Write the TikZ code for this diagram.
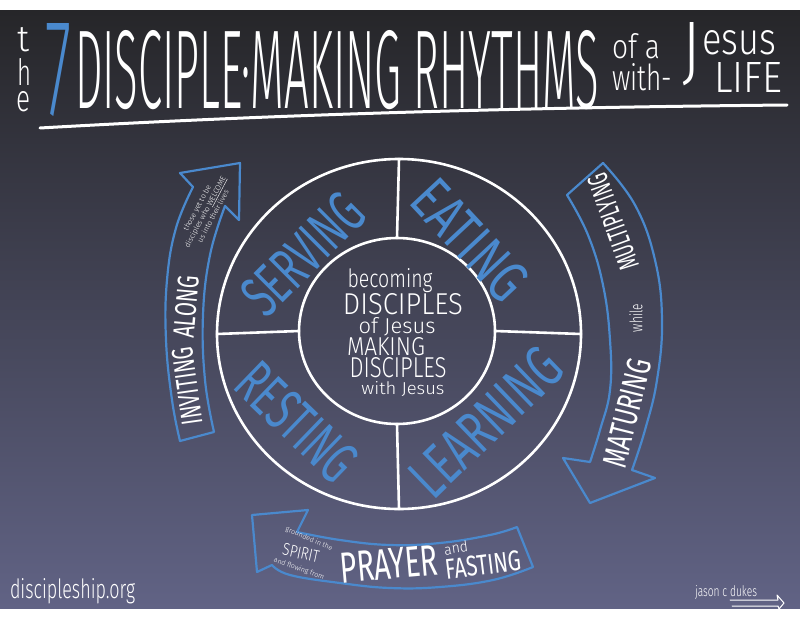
\documentclass[tikz,border=0pt]{standalone}
\usepackage{fontspec}
\usepackage{graphicx}
\usetikzlibrary{shapes.geometric, positioning}
\IfFontExistsTF{Fira Sans Light}{\newfontfamily\handfont{Fira Sans Light}}{\newfontfamily\handfont{Liberation Sans}}
\IfFontExistsTF{Fira Sans}{\newfontfamily\markfont{Fira Sans}}{\newfontfamily\markfont{Liberation Sans}}
\definecolor{sketchblue}{RGB}{74,137,205}
\definecolor{boardtop}{RGB}{38,38,41}
\definecolor{boardmid}{RGB}{58,60,78}
\definecolor{boardbot}{RGB}{97,99,133}
\newcommand{\fitto}[3]{\resizebox{#1pt}{#2pt}{#3}}

\begin{document}
\begin{tikzpicture}[x=1pt, y=-1pt,
    chalk/.style={draw=white, line width=2.6pt, line cap=round, line join=round},
    band/.style={draw=sketchblue, line width=2.2pt, line cap=round, line join=round},
    word/.style={inner sep=0pt, outer sep=0pt, text=white, font=\handfont},
    bandword/.style={word, font=\markfont},
    blueword/.style={word, text=sketchblue, font=\markfont}]%
    % board
    \useasboundingbox (0,0) rectangle (800,618);
    \fill[white] (0,0) rectangle (800,618);
    \shade[top color=boardtop, middle color=boardmid, bottom color=boardbot] (0,11) rectangle (800,608);

    % title
    \node (theT) [word, anchor=base] at (24,52) {\fitto{12}{24}{t}};
    \node (theH) [word, anchor=base] at (24,85) {\fitto{14}{27}{h}};
    \node (theE) [word, anchor=base] at (24,111) {\fitto{14}{20}{e}};
    \node (seven) [blueword, font=\handfont, anchor=base] at (59,115) {\fitto{26}{92}{7}};
    \node (rhythms) [word, anchor=base west] at (75,108) {\fitto{524}{78}{DISCIPLE·MAKING RHYTHMS}};
    \node (ofA) [word, anchor=base west] at (612,58) {\fitto{48}{25}{of a}};
    \node (bigJ) [word, anchor=base west] at (682,76) {\fitto{18}{54}{J}};
    \node (esus) [word, anchor=base west] at (702,55) {\fitto{74}{24}{esus}};
    \node (withDash) [word, anchor=base west] at (612,90) {\fitto{60}{27}{with-}};
    \node (life) [word, anchor=base west] at (714,92) {\fitto{68}{30}{LIFE}};
    \draw [chalk, line width=3pt] (40,128) .. controls (250,116) and (480,108) .. (787,105);

    % the wheel
    \node (ringOuter) [chalk, ellipse, inner sep=0pt, outer sep=0pt, minimum width=364pt, minimum height=350pt] at (399,334) {};
    \node (ringInner) [chalk, ellipse, inner sep=0pt, outer sep=0pt, minimum width=196pt, minimum height=186pt] at (397,331) {};
    \foreach \side in {north,south,west,east}
        \draw [chalk] (ringOuter.\side) -- (ringInner.\side);
    \foreach \txt/\id/\cx/\cy/\ang/\w in {SERVING/serving/303/254/45/145, EATING/eating/470/240/-47/140,
                                          RESTING/resting/297/422/-44/142, LEARNING/learning/486/422/44/185}
        \node (\id) [blueword, rotate=\ang] at (\cx,\cy) {\fitto{\w}{42}{\txt}};
    \foreach \txt/\w/\h/\cx/\by [count=\i] in {becoming/85/19/390/287, DISCIPLES/120/21/403/314, of Jesus/77/16/397/333,
                                              MAKING/78/18/386/355, DISCIPLES/97/20/398/377, with Jesus/83/13/403/394}
        \node (hubLine\i) [word, anchor=base] at (\cx,\by) {\fitto{\w}{\h}{\txt}};

    % inviting along (left)
    \draw [band] plot [smooth, tension=0.7] coordinates {(180,441) (172,400) (166,340) (167,280) (176,228) (193,187)}
        -- (180,173) -- (240,163) -- (239,220) -- (225,206)
        -- plot [smooth, tension=0.7] coordinates {(225,206) (210,255) (203,315) (205,380) (214,432)}
        -- cycle;
    \node (inviting) [bandword, rotate=98] at (187,386) {\fitto{78}{21}{INVITING}};
    \node (along) [bandword, rotate=85] at (186,307) {\fitto{62}{21}{ALONG}};
    \node (welcomeNote) [word, rotate=62, align=center, font=\handfont\fontsize{7.5}{9}\selectfont] at (205,212)
        {those yet to be\\disciples who \underline{WELCOME}\\us into their lives};

    % maturing while multiplying (right)
    \draw [band] (567,195) -- (603,163)
        -- plot [smooth, tension=0.7] coordinates {(603,163) (635,205) (655,260) (662,320) (657,380) (645,430) (632,470)}
        -- (655,478) -- (590,503) -- (563,458)
        -- plot [smooth, tension=0.7] coordinates {(590,462) (600,430) (610,390) (610,340) (603,285) (588,235) (567,195)}
        -- cycle;
    \node (maturing) [bandword, rotate=76] at (627,413) {\fitto{110}{24}{MATURING}};
    \node (while) [word, rotate=90] at (636,318) {\fitto{28}{13}{while}};
    \node (multiplying) [bandword, rotate=110] at (613,222) {\fitto{100}{20}{MULTIPLYING}};

    % prayer and fasting (bottom)
    \draw [band] (252,515) -- (308,510) -- (297,532)
        -- plot [smooth, tension=0.7] coordinates {(297,532) (340,540) (390,545) (440,543) (490,535) (517,527)}
        -- (533,567)
        -- plot [smooth, tension=0.7] coordinates {(533,567) (493,580) (440,587) (390,588) (340,583) (290,575) (272,565)}
        -- (257,572) -- cycle;
    \node (grounded) [word, rotate=-23, font=\handfont\fontsize{7}{8}\selectfont] at (309,539) {grounded in the};
    \node (spirit) [word, rotate=-12] at (301,553) {\fitto{37}{12}{SPIRIT}};
    \node (flowing) [word, rotate=-20, font=\handfont\fontsize{7}{8}\selectfont] at (299,569) {and flowing from};
    \node (prayer) [bandword, rotate=5] at (389,564) {\fitto{98}{30}{PRAYER}};
    \node (prayerAnd) [word, rotate=8] at (456,548) {\fitto{24}{11}{and}};
    \node (fasting) [bandword, rotate=7] at (483,565) {\fitto{76}{20}{FASTING}};

    % footer
    \node (site) [word, anchor=base west] at (10,598) {\fitto{125}{20}{discipleship.org}};
    \node (signature) [word, anchor=base west] at (695,596) {\fitto{62}{11}{jason c dukes}};
    \draw [chalk, line width=1pt] (730,600) -- (778,600) -- (777,595) -- (784,603) -- (779,609) -- (778,606) -- (732,606);
\end{tikzpicture}
\end{document}
